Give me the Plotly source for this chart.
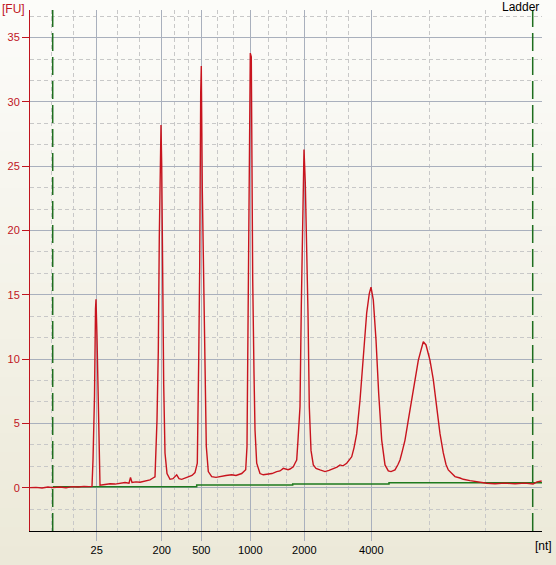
import plotly.graph_objects as go

# migration time (s) and fluorescence (FU) of the ladder trace
trace_t = [17.0, 17.6, 18.2, 18.8, 19.3, 20.0, 20.6, 21.2, 21.8, 22.4, 22.9, 23.2,
           23.3, 23.45, 23.55, 23.6, 23.7, 23.8, 23.9, 24.0, 24.5, 25.0, 25.5, 26.0,
           26.5, 26.9, 27.05, 27.2, 27.6, 28.0, 28.5, 29.0, 29.3, 29.5, 29.7, 29.83,
           29.93, 30.03, 30.1, 30.17, 30.27, 30.37, 30.5, 30.7, 31.0, 31.3, 31.67, 31.9,
           32.17, 32.5, 32.83, 33.2, 33.5, 33.73, 33.87, 33.97, 34.07, 34.13, 34.23, 34.37,
           34.5, 34.63, 34.83, 35.17, 35.6, 36.17, 36.6, 37.17, 37.6, 38.17, 38.57, 38.7,
           38.83, 38.93, 39.03, 39.13, 39.17, 39.27, 39.4, 39.5, 39.67, 40.0, 40.33, 40.8,
           41.2, 41.67, 42.0, 42.33, 42.8, 43.0, 43.33, 43.5, 43.67, 43.8, 44.0, 44.13,
           44.27, 44.4, 44.53, 44.67, 44.8, 44.93, 45.1, 45.33, 45.6, 46.0, 46.5, 46.9,
           47.33, 47.7, 48.0, 48.3, 48.67, 48.9, 49.17, 49.4, 49.67, 50.0, 50.33, 50.67,
           50.93, 51.1, 51.33, 51.6, 51.87, 52.17, 52.5, 52.83, 53.1, 53.5, 53.8, 54.0,
           54.25, 54.5, 54.83, 55.17, 55.5, 55.83, 56.1, 56.33, 56.6, 57.0, 57.33, 57.67,
           58.0, 58.33, 58.6, 58.83, 59.2, 59.5, 60.0, 60.33, 61.0, 61.67, 62.2, 62.67,
           63.5, 64.5, 65.5, 66.5, 67.3, 67.7, 68.17]
trace_fu = [0.0, 0.02, -0.03, 0.05, 0.0, 0.05, 0.0, 0.08, 0.05, 0.1, 0.08, 0.1,
            2.15, 7.1, 13.9, 14.65, 11.7, 7.1, 2.7, 0.2, 0.25, 0.3, 0.28, 0.35,
            0.4, 0.35, 0.8, 0.4, 0.45, 0.42, 0.5, 0.6, 0.75, 0.85, 5.26, 10.6,
            19.5, 27.3, 28.2, 25.2, 15.9, 8.0, 2.7, 1.1, 0.65, 0.7, 1.0, 0.7,
            0.65, 0.75, 0.86, 0.95, 1.17, 1.9, 9.9, 17.2, 30.7, 32.8, 23.2, 16.7,
            11.5, 3.2, 1.25, 0.86, 0.8, 0.9, 0.95, 1.0, 0.95, 1.1, 1.4, 3.2,
            17.2, 28.6, 33.8, 33.5, 27.6, 16.2, 8.9, 4.5, 1.9, 1.1, 1.0, 1.05,
            1.1, 1.25, 1.3, 1.5, 1.4, 1.45, 1.63, 1.9, 2.15, 3.7, 6.3, 14.1,
            21.9, 26.3, 23.7, 19.3, 13.6, 6.3, 2.9, 1.77, 1.5, 1.38, 1.25, 1.35,
            1.5, 1.6, 1.77, 1.7, 1.9, 2.1, 2.4, 3.1, 4.2, 6.8, 10.45, 13.6,
            15.1, 15.6, 14.6, 11.5, 7.3, 3.7, 1.77, 1.3, 1.25, 1.38, 1.8, 2.15,
            2.9, 3.7, 5.26, 6.8, 8.4, 9.9, 10.7, 11.35, 11.1, 9.9, 8.4, 6.3,
            4.2, 2.7, 1.8, 1.38, 1.1, 0.86, 0.75, 0.65, 0.55, 0.47, 0.4, 0.34,
            0.3, 0.35, 0.3, 0.35, 0.28, 0.45, 0.52]

# baseline (green step line)
base_t = [19.27, 33.67, 43.27, 52.9, 68.2]
base_fu = [0.07, 0.2, 0.29, 0.38, 0.38]

# ladder peak positions and their sizes
ladder_t = [23.67, 30.17, 34.13, 39.03, 44.43, 51.13]
ladder_nt = ["25", "200", "500", "1000", "2000", "4000"]
minor_t = [19.17, 21.33, 25.73, 27.93, 31.49, 32.81, 35.73, 37.33, 40.83, 42.63,
           46.67, 48.83, 56.9, 62.57]

# lower / upper marker
marker_t = [19.27, 67.27]

W, H = 556, 565
ML, MR, MT, MB = 30, 14, 10, 34
pw, ph = W - ML - MR, H - MT - MB

fig = go.Figure()
fig.add_trace(go.Scatter(x=base_t, y=base_fu, mode="lines", line_shape="hv",
                         line=dict(color="#1E7A1E", width=1.5), hoverinfo="skip"))
fig.add_trace(go.Scatter(x=trace_t, y=trace_fu, mode="lines",
                         line=dict(color="#C8141E", width=1.4)))

# background gradient from near white (top) to beige (bottom)
shapes = []
n = 30
top, bot = (252, 252, 250), (236, 233, 216)
y_lo, y_hi = -MB / ph, 1 + MT / ph
for i in range(n):
    f = (i + 0.5) / n
    c = tuple(round(bot[k] + (top[k] - bot[k]) * f) for k in range(3))
    shapes.append(dict(type="rect", xref="paper", yref="paper", layer="below",
                       x0=-ML / pw, x1=1 + MR / pw,
                       y0=y_lo + (y_hi - y_lo) * i / n,
                       y1=y_lo + (y_hi - y_lo) * (i + 1) / n + 0.002,
                       line=dict(width=0), fillcolor="rgb(%d,%d,%d)" % c))
for t in marker_t:
    shapes.append(dict(type="line", xref="x", yref="paper", x0=t, x1=t, y0=0, y1=1,
                       layer="above", line=dict(color="#1E6E1E", width=1.5, dash="18px,6px")))

grid = "#A9B0BD"
minor_grid = "#C8C8C8"
font = "Liberation Sans"

fig.update_layout(
    width=W, height=H,
    margin=dict(l=ML, r=MR, t=MT, b=MB, autoexpand=False),
    paper_bgcolor="#ECE9D8",
    plot_bgcolor="rgba(0,0,0,0)",
    showlegend=False,
    shapes=shapes,
    xaxis=dict(range=[17, 68.2], tickmode="array", tickvals=ladder_t, ticktext=ladder_nt,
               automargin=False,
               ticks="outside", ticklen=9, tickcolor=grid, showline=True,
               linecolor="black", linewidth=1, showgrid=True, gridcolor=grid,
               zeroline=False, tickfont=dict(family=font, size=11, color="black"),
               minor=dict(tickmode="array", tickvals=minor_t, showgrid=True,
                          gridcolor=minor_grid, griddash="4px,3px", ticks="")),
    yaxis=dict(range=[-3.37, 37.15], tick0=0, dtick=5, ticks="outside", ticklen=7,
               automargin=False,
               tickcolor="#C0141E", showline=True, linecolor="#C0141E", linewidth=1,
               showgrid=True, gridcolor=grid, zeroline=False,
               tickfont=dict(family=font, size=11, color="#C0141E"),
               minor=dict(tick0=0, dtick=5 / 3, showgrid=True, gridcolor=minor_grid,
                          griddash="4px,3px", ticks="")),
    annotations=[
        dict(text="[FU]", xref="paper", yref="paper", x=-ML / pw, y=1 + MT / ph,
             xanchor="left", yanchor="top", showarrow=False,
             font=dict(family=font, size=12, color="#C0141E")),
        dict(text="[nt]", xref="paper", yref="paper", x=(533 - ML) / pw, y=-15 / ph,
             xanchor="left", yanchor="middle", showarrow=False,
             font=dict(family=font, size=12, color="black")),
        dict(text="Ladder", xref="paper", yref="paper", x=(520 - ML) / pw, y=1 + 3 / ph,
             xanchor="center", yanchor="middle", showarrow=False,
             font=dict(family=font, size=12, color="black")),
    ],
)

# the page body has an 8px default margin; remove it so the figure fills the window
fig.write_html("out.html", config={"displayModeBar": False},
               post_script="document.body.style.margin = '0';")
